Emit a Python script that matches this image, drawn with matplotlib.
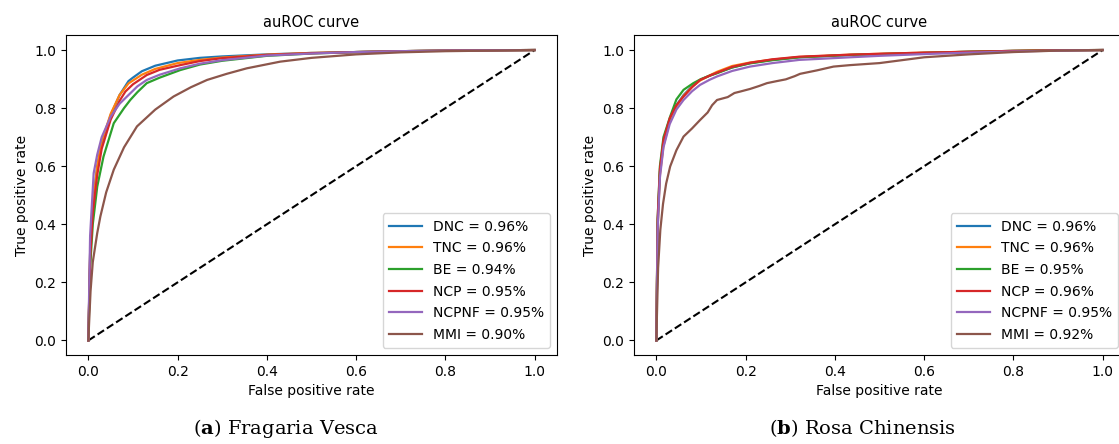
import matplotlib
matplotlib.use("Agg")
import matplotlib.pyplot as plt

# ---------------- data ----------------
labels = ["DNC", "TNC", "BE", "NCP", "NCPNF", "MMI"]
colors = ["#1f77b4", "#ff7f0e", "#2ca02c", "#d62728", "#9467bd", "#8c564b"]

auc_a = [0.96, 0.96, 0.94, 0.95, 0.95, 0.90]
auc_b = [0.96, 0.96, 0.95, 0.96, 0.95, 0.92]

# Panel (a) Fragaria Vesca
a_dnc_fpr = [0, 0.004, 0.01, 0.02, 0.03, 0.05, 0.07, 0.09, 0.10, 0.12, 0.15, 0.20, 0.25, 0.30, 0.40, 0.50, 0.60, 0.70, 0.80, 0.90, 1.0]
a_dnc_tpr = [0, 0.30, 0.47, 0.60, 0.68, 0.775, 0.845, 0.893, 0.905, 0.927, 0.946, 0.964, 0.973, 0.978, 0.985, 0.990, 0.993, 0.996, 0.998, 0.999, 1.0]
a_tnc_fpr = [0, 0.004, 0.01, 0.02, 0.03, 0.05, 0.07, 0.09, 0.10, 0.12, 0.15, 0.20, 0.25, 0.30, 0.40, 0.50, 0.60, 0.70, 0.80, 0.90, 1.0]
a_tnc_tpr = [0, 0.30, 0.46, 0.60, 0.685, 0.78, 0.845, 0.885, 0.895, 0.915, 0.935, 0.955, 0.966, 0.974, 0.984, 0.990, 0.993, 0.996, 0.998, 0.999, 1.0]
a_be_fpr = [0, 0.004, 0.01, 0.02, 0.034, 0.057, 0.08, 0.094, 0.11, 0.131, 0.16, 0.206, 0.25, 0.30, 0.40, 0.50, 0.60, 0.70, 0.80, 0.90, 1.0]
a_be_tpr = [0, 0.25, 0.40, 0.53, 0.633, 0.748, 0.80, 0.828, 0.855, 0.886, 0.905, 0.931, 0.950, 0.963, 0.980, 0.988, 0.993, 0.996, 0.998, 0.999, 1.0]
a_ncp_fpr = [0, 0.004, 0.01, 0.02, 0.03, 0.05, 0.07, 0.083, 0.10, 0.131, 0.16, 0.206, 0.25, 0.30, 0.40, 0.50, 0.60, 0.70, 0.80, 0.90, 1.0]
a_ncp_tpr = [0, 0.28, 0.44, 0.57, 0.66, 0.76, 0.825, 0.857, 0.882, 0.914, 0.932, 0.948, 0.962, 0.972, 0.983, 0.989, 0.993, 0.996, 0.998, 0.999, 1.0]
a_ncpnf_fpr = [0, 0.004, 0.012, 0.02, 0.03, 0.05, 0.07, 0.094, 0.11, 0.131, 0.16, 0.206, 0.25, 0.30, 0.40, 0.50, 0.60, 0.70, 0.80, 0.90, 1.0]
a_ncpnf_tpr = [0, 0.36, 0.576, 0.64, 0.70, 0.77, 0.815, 0.851, 0.875, 0.897, 0.915, 0.937, 0.953, 0.965, 0.981, 0.988, 0.993, 0.996, 0.998, 0.999, 1.0]
a_mmi_fpr = [0, 0.005, 0.01, 0.02, 0.027, 0.04, 0.057, 0.08, 0.109, 0.15, 0.191, 0.23, 0.266, 0.31, 0.355, 0.43, 0.50, 0.60, 0.70, 0.80, 0.90, 1.0]
a_mmi_tpr = [0, 0.17, 0.27, 0.37, 0.427, 0.51, 0.588, 0.665, 0.737, 0.795, 0.84, 0.872, 0.897, 0.918, 0.937, 0.960, 0.973, 0.985, 0.992, 0.996, 0.998, 1.0]

# Panel (b) Rosa Chinensis
b_dnc_fpr = [0, 0.003, 0.008, 0.016, 0.03, 0.045, 0.061, 0.08, 0.098, 0.12, 0.136, 0.17, 0.21, 0.26, 0.32, 0.434, 0.50, 0.60, 0.70, 0.80, 0.90, 1.0]
b_dnc_tpr = [0, 0.40, 0.58, 0.68, 0.76, 0.81, 0.845, 0.875, 0.897, 0.912, 0.922, 0.940, 0.955, 0.966, 0.975, 0.983, 0.986, 0.990, 0.994, 0.997, 0.999, 1.0]
b_tnc_fpr = [0, 0.003, 0.008, 0.016, 0.03, 0.045, 0.061, 0.08, 0.098, 0.12, 0.136, 0.17, 0.21, 0.26, 0.32, 0.434, 0.50, 0.60, 0.70, 0.80, 0.90, 1.0]
b_tnc_tpr = [0, 0.39, 0.57, 0.67, 0.755, 0.805, 0.842, 0.873, 0.895, 0.913, 0.925, 0.945, 0.957, 0.967, 0.976, 0.984, 0.987, 0.991, 0.994, 0.997, 0.999, 1.0]
b_be_fpr = [0, 0.003, 0.008, 0.016, 0.031, 0.045, 0.061, 0.083, 0.10, 0.12, 0.136, 0.17, 0.21, 0.26, 0.32, 0.434, 0.50, 0.60, 0.70, 0.80, 0.90, 1.0]
b_be_tpr = [0, 0.42, 0.60, 0.70, 0.771, 0.83, 0.863, 0.886, 0.900, 0.912, 0.920, 0.940, 0.954, 0.965, 0.975, 0.983, 0.986, 0.990, 0.994, 0.997, 0.999, 1.0]
b_ncp_fpr = [0, 0.003, 0.008, 0.016, 0.03, 0.045, 0.061, 0.08, 0.098, 0.12, 0.136, 0.17, 0.21, 0.26, 0.32, 0.434, 0.50, 0.60, 0.70, 0.80, 0.90, 1.0]
b_ncp_tpr = [0, 0.42, 0.59, 0.69, 0.765, 0.81, 0.84, 0.872, 0.897, 0.912, 0.922, 0.942, 0.956, 0.968, 0.977, 0.984, 0.987, 0.991, 0.994, 0.997, 0.999, 1.0]
b_ncpnf_fpr = [0, 0.003, 0.008, 0.016, 0.03, 0.045, 0.061, 0.08, 0.098, 0.12, 0.136, 0.17, 0.21, 0.26, 0.32, 0.434, 0.50, 0.60, 0.70, 0.80, 0.90, 1.0]
b_ncpnf_tpr = [0, 0.38, 0.56, 0.665, 0.745, 0.795, 0.828, 0.858, 0.880, 0.898, 0.909, 0.928, 0.943, 0.955, 0.966, 0.975, 0.980, 0.986, 0.991, 0.995, 0.998, 1.0]
b_mmi_fpr = [0, 0.004, 0.009, 0.015, 0.022, 0.031, 0.045, 0.061, 0.08, 0.098, 0.115, 0.125, 0.136, 0.16, 0.175, 0.188, 0.21, 0.23, 0.248, 0.27, 0.29, 0.31, 0.322, 0.36, 0.397, 0.434, 0.50, 0.55, 0.60, 0.70, 0.80, 0.90, 1.0]
b_mmi_tpr = [0, 0.25, 0.381, 0.47, 0.54, 0.599, 0.655, 0.702, 0.73, 0.759, 0.785, 0.81, 0.828, 0.838, 0.852, 0.857, 0.866, 0.876, 0.886, 0.893, 0.899, 0.910, 0.918, 0.930, 0.943, 0.948, 0.955, 0.965, 0.975, 0.985, 0.993, 0.998, 1.0]

panel_a = [(a_dnc_fpr, a_dnc_tpr), (a_tnc_fpr, a_tnc_tpr), (a_be_fpr, a_be_tpr),
           (a_ncp_fpr, a_ncp_tpr), (a_ncpnf_fpr, a_ncpnf_tpr), (a_mmi_fpr, a_mmi_tpr)]
panel_b = [(b_dnc_fpr, b_dnc_tpr), (b_tnc_fpr, b_tnc_tpr), (b_be_fpr, b_be_tpr),
           (b_ncp_fpr, b_ncp_tpr), (b_ncpnf_fpr, b_ncpnf_tpr), (b_mmi_fpr, b_mmi_tpr)]

title = "auROC curve"
xlabel = "False positive rate"
ylabel = "True positive rate"
caption_a = ("a", "Fragaria Vesca")
caption_b = ("b", "Rosa Chinensis")

# ---------------- figure ----------------
W, H = 1119, 444
fig = plt.figure(figsize=(W / 100, H / 100), dpi=100)


def px_axes(x0, y0, x1, y1):
    return fig.add_axes([x0 / W, 1 - y1 / H, (x1 - x0) / W, (y1 - y0) / H])


ax_a = px_axes(66, 35.5, 557, 355)
ax_b = px_axes(634, 35.5, 1125, 355)

for ax, panel, aucs in [(ax_a, panel_a, auc_a), (ax_b, panel_b, auc_b)]:
    ax.plot([0, 1], [0, 1], "k--", lw=1.5)
    for (f, t), lab, c, a in zip(panel, labels, colors, aucs):
        ax.plot(f, t, color=c, lw=1.6, label=f"{lab} = {a:.2f}%")
    ax.set_title(title, fontsize=10.5)
    ax.set_xlabel(xlabel, fontsize=10)
    ax.set_ylabel(ylabel, fontsize=10)
    ax.set_xlim(-0.05, 1.05)
    ax.set_ylim(-0.05, 1.05)
    ax.set_xticks([0, 0.2, 0.4, 0.6, 0.8, 1.0])
    ax.set_yticks([0, 0.2, 0.4, 0.6, 0.8, 1.0])
    handles, labs = ax.get_legend_handles_labels()
    ax.legend(handles, labs, loc="lower right", fontsize=10,
              handlelength=2.35, labelspacing=0.55, borderpad=0.45)

plt.rcParams["mathtext.fontset"] = "dejavuserif"

for cx, (letter, name) in [(286, caption_a), (862, caption_b)]:
    fig.text(cx / W, 1 - 428 / H, f"($\\mathbf{{{letter}}}$) {name}",
             ha="center", va="center", fontsize=14, family="DejaVu Serif")

fig.savefig("out.png", dpi=100)
